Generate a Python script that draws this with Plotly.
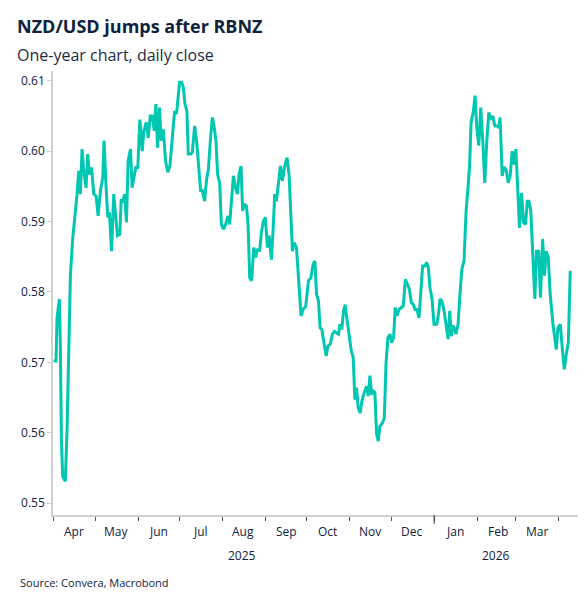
import datetime as dt
import plotly.graph_objects as go

days = [0.0,1.7,2.4,4.1,4.8,5.6,6.5,8.4,9.7,10.9,12.1,13.8,15.2,16.9,18.1,19.3,20.5,21.7,23.4,24.6,25.8,27.3,29.0,30.7,32.1,33.8,35.5,36.4,37.9,39.1,40.3,41.8,43.4,44.7,46.1,47.8,48.8,50.0,51.2,52.6,53.8,55.5,56.7,58.2,59.4,60.8,62.3,64.0,65.2,66.9,68.3,69.8,71.2,72.7,73.9,75.1,76.5,77.7,79.2,80.9,82.5,84.0,85.7,87.4,88.8,90.0,91.0,92.4,93.7,94.9,96.3,97.3,99.0,100.2,101.9,103.3,104.5,106.2,107.4,109.1,110.5,111.8,113.4,114.7,115.9,117.3,118.5,120.0,121.2,122.6,124.3,126.0,127.2,128.7,129.9,131.5,132.8,134.0,135.4,136.6,137.8,139.3,140.5,141.7,143.1,144.6,146.0,147.2,148.9,150.1,151.6,153.0,154.5,155.7,157.4,158.6,159.8,161.0,162.4,163.9,165.3,166.8,168.7,170.2,
172.6,173.8,175.5,177.4,178.8,180.3,182.2,184.2,185.9,187.5,188.8,190.0,191.4,192.6,193.8,195.5,197.0,198.2,199.9,201.5,203.0,204.4,205.9,206.9,208.3,209.5,210.7,211.9,213.6,215.1,216.5,217.7,218.9,220.1,221.6,222.8,224.5,226.2,227.4,228.6,229.8,231.0,232.2,233.4,234.6,235.8,237.7,239.0,240.2,241.6,243.1,244.3,245.7,246.9,248.1,249.6,251.3,252.7,254.2,255.4,257.1,258.5,260.0,261.2,262.6,264.1,265.5,266.7,268.4,269.6,270.8,272.0,273.5,274.9,276.9,278.1,279.3,280.7,282.2,283.6,285.1,286.3,287.5,288.4,289.6,290.8,292.3,293.7,295.0,296.6,298.1,299.5,300.7,301.7,303.4,304.6,305.8,307.3,308.7,310.2,311.6,313.1,314.5,316.0,317.4,318.9,320.3,321.7,322.7,324.2,325.4,327.1,328.5,330.0,331.4,332.6,334.1,335.5,336.7,338.2,339.6,341.1,342.3,343.5,344.9,346.4,347.8,349.0,350.5,351.9,353.4,354.8,356.0,357.5,358.9,360.9,362.1,363.3,364.5,366.2,367.6,369.1,370.5,372.0,373.4]

nzdusd = [0.5702,0.5702,0.5763,0.5790,0.5726,0.5588,0.5538,0.5531,0.5607,0.5702,0.5825,0.5877,0.5901,0.5939,0.5972,0.5939,0.6003,0.5972,0.5948,0.5996,0.5967,0.5977,0.5939,0.5936,0.5908,0.5944,0.5963,0.6015,0.5948,0.5906,0.5913,0.5858,0.5939,0.5906,0.5880,0.5882,0.5932,0.5927,0.5939,0.5899,0.5986,0.6003,0.5948,0.5965,0.5977,0.5977,0.6045,0.6000,0.6029,0.6041,0.6019,0.6050,0.6050,0.6029,0.6067,0.6005,0.6062,0.6015,0.6031,0.5986,0.5970,0.5979,0.6019,0.6057,0.6053,0.6076,0.6098,0.6098,0.6091,0.6067,0.6057,0.5996,0.5996,0.5998,0.6036,0.6015,0.5986,0.5944,0.5944,0.5929,0.5960,0.5974,0.6019,0.6048,0.6036,0.6015,0.5967,0.5955,0.5896,0.5889,0.5896,0.5908,0.5896,0.5944,0.5965,0.5948,0.5939,0.5967,0.5979,0.5915,0.5925,0.5922,0.5896,0.5820,0.5816,0.5863,0.5849,0.5861,0.5858,0.5884,0.5901,0.5906,0.5863,0.5880,0.5846,0.5889,0.5939,0.5929,0.5951,0.5979,0.5958,0.5977,0.5991,0.5965,
0.5858,0.5870,0.5863,0.5797,0.5766,0.5775,0.5780,0.5816,0.5820,0.5839,0.5844,0.5797,0.5787,0.5749,0.5747,0.5726,0.5709,0.5723,0.5726,0.5740,0.5744,0.5742,0.5740,0.5754,0.5747,0.5773,0.5782,0.5763,0.5735,0.5716,0.5707,0.5647,0.5664,0.5636,0.5628,0.5645,0.5657,0.5666,0.5652,0.5681,0.5654,0.5659,0.5657,0.5598,0.5588,0.5609,0.5614,0.5621,0.5697,0.5735,0.5740,0.5728,0.5735,0.5778,0.5766,0.5775,0.5778,0.5780,0.5818,0.5813,0.5804,0.5785,0.5782,0.5775,0.5775,0.5763,0.5801,0.5837,0.5837,0.5842,0.5835,0.5806,0.5790,0.5754,0.5754,0.5768,0.5790,0.5787,0.5773,0.5752,0.5733,0.5773,0.5737,0.5752,0.5749,0.5740,0.5754,0.5797,0.5832,0.5844,0.5915,0.5948,0.5981,0.6041,0.6057,0.6079,0.6034,0.6008,0.6062,0.6015,0.5955,0.6015,0.6055,0.6045,0.6050,0.6036,0.6036,0.6034,0.6048,0.5965,0.5977,0.5974,0.5955,0.5965,0.6000,0.5981,0.6003,0.5944,0.5891,0.5941,0.5899,0.5896,0.5929,0.5929,0.5915,0.5849,0.5790,0.5858,0.5858,0.5792,0.5875,0.5823,0.5858,0.5849,0.5797,0.5754,0.5735,0.5718,0.5749,0.5754,0.5721,0.5690,0.5711,0.5728,0.5830]

month_starts = ["2025-04-01","2025-05-01","2025-06-01","2025-07-01","2025-08-01","2025-09-01","2025-10-01","2025-11-01","2025-12-01","2026-01-01","2026-02-01","2026-03-01","2026-04-01"]
month_labels = ["Apr","May","Jun","Jul","Aug","Sep","Oct","Nov","Dec","Jan","Feb","Mar","Apr"]
y_ticks = [0.55,0.56,0.57,0.58,0.59,0.60,0.61]
y_labels = ["0.55","0.56","0.57","0.58","0.59","0.60","0.61"]

start = dt.datetime(2025, 4, 1)
dates = [start + dt.timedelta(days=d) for d in days]

FONT = "Open Sans"
NAVY = "#0e2240"
fig = go.Figure()
fig.add_trace(go.Scatter(x=dates, y=nzdusd, mode="lines",
                         line=dict(color="#00c7b1", width=3), hoverinfo="skip"))

for i, lab in enumerate(month_labels):
    d0 = dt.datetime.fromisoformat(month_starts[i])
    mid = d0 + dt.timedelta(days=15)
    fig.add_annotation(x=mid, y=0, yref="paper", yshift=-6, text=lab, showarrow=False,
                       yanchor="top", font=dict(family=FONT, size=12, color=NAVY))
fig.add_annotation(x="2025-08-15", y=0, yref="paper", yshift=-30, text="2025", showarrow=False,
                   yanchor="top", font=dict(family=FONT, size=12, color=NAVY))
fig.add_annotation(x="2026-02-15", y=0, yref="paper", yshift=-30, text="2026", showarrow=False,
                   yanchor="top", font=dict(family=FONT, size=12, color=NAVY))
fig.add_shape(type="line", x0="2026-01-01", x1="2026-01-01", y0=0, y1=-0.02,
              xref="x", yref="paper", line=dict(color="#333", width=1))

fig.add_annotation(text="<b>NZD/USD jumps after RBNZ</b>", xref="paper", yref="paper",
                   x=-0.072, y=1.101, xanchor="left", yanchor="middle", showarrow=False,
                   font=dict(family=FONT, size=18, color=NAVY))
fig.add_annotation(text="One-year chart, daily close", xref="paper", yref="paper",
                   x=-0.072, y=1.036, xanchor="left", yanchor="middle", showarrow=False,
                   font=dict(family=FONT, size=16, color="#1c2b3f"))
fig.add_annotation(text="Source: Convera, Macrobond", xref="paper", yref="paper",
                   x=-0.067, y=-0.153, xanchor="left", yanchor="middle", showarrow=False,
                   font=dict(family=FONT, size=11, color=NAVY))

fig.update_layout(
    width=587, height=593, paper_bgcolor="white", plot_bgcolor="white",
    margin=dict(l=45, r=17, t=63, b=86), showlegend=False,
    xaxis=dict(range=["2025-03-31 12:00", "2026-04-15"], tickvals=month_starts, ticktext=[""]*len(month_starts),
               ticks="outside", ticklen=4, tickcolor="#555", showgrid=False, zeroline=False,
               showline=True, linecolor="#d0d0d0", linewidth=1.5),
    yaxis=dict(range=[0.5483, 0.6114], tickvals=y_ticks, ticktext=y_labels, ticks="outside",
               ticklen=4, tickcolor="#ccc", showgrid=False, zeroline=False, showline=True,
               linecolor="#d0d0d0", linewidth=1.5,
               tickfont=dict(family=FONT, size=12, color=NAVY)),
)
fig.write_html("out.html")
